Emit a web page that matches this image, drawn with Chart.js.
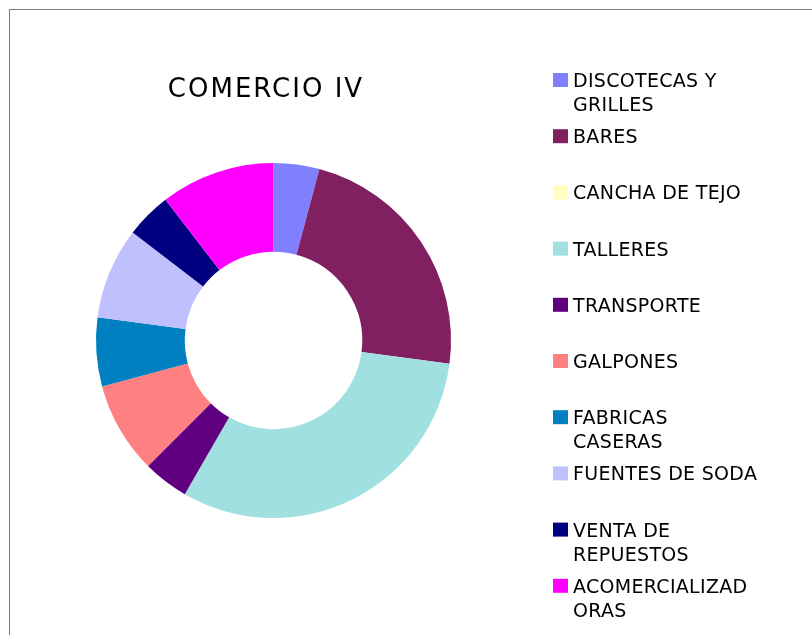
<!DOCTYPE html>
<html>
<head>
<meta charset="utf-8">
<script src="https://cdn.jsdelivr.net/npm/chart.js@4"></script>
<style>
  html, body { margin: 0; padding: 0; background: #fff; overflow: hidden; }
  #frame { position: absolute; left: 9px; top: 9px; width: 900px; height: 700px; border: 1px solid #7a7a7a; }
  #wrap { position: absolute; left: 0; top: 0; width: 812px; height: 635px; }
</style>
</head>
<body>
<div id="frame"></div>
<div id="wrap"><canvas id="chart" width="812" height="635"></canvas></div>
<script>
const chartTitle = "COMERCIO IV";
const categories = [
    ["DISCOTECAS Y", "GRILLES"],
    "BARES",
    "CANCHA DE TEJO",
    "TALLERES",
    "TRANSPORTE",
    "GALPONES",
    ["FABRICAS", "CASERAS"],
    "FUENTES DE SODA",
    ["VENTA DE", "REPUESTOS"],
    ["ACOMERCIALIZAD", "ORAS"]
];
const counts = [2, 11, 0, 15, 2, 4, 3, 4, 2, 5];
const colors = ["#8080ff", "#802060", "#ffffc0", "#a0e0e0", "#600080",
                "#ff8080", "#0080c0", "#c0c0ff", "#000080", "#ff00ff"];

const FONT = '"DejaVu Sans", "Liberation Sans", sans-serif';

// title + legend drawn by hand so they sit where the original has them
const sideLegend = {
    id: "sideLegend",
    afterDraw(chart) {
        const ctx = chart.ctx;
        ctx.save();
        ctx.fillStyle = "#000";
        ctx.textAlign = "center";
        ctx.textBaseline = "alphabetic";
        ctx.font = "26px " + FONT;
        ctx.letterSpacing = "2px";
        ctx.fillText(chartTitle, 266, 97);

        ctx.textAlign = "left";
        ctx.font = "19px " + FONT;
        ctx.letterSpacing = "0.3px";
        const labels = chart.data.labels;
        labels.forEach((lab, i) => {
            const top = 73 + i * 56.2;
            ctx.fillStyle = chart.data.datasets[0].backgroundColor[i];
            ctx.fillRect(553, top, 15, 14);
            ctx.fillStyle = "#000";
            const lines = Array.isArray(lab) ? lab : [lab];
            lines.forEach((t, j) => ctx.fillText(t, 573, top + 14 + j * 24));
        });
        ctx.restore();
    }
};

new Chart(document.getElementById("chart"), {
    type: "doughnut",
    data: {
        labels: categories,
        datasets: [{
            data: counts,
            backgroundColor: colors,
            borderWidth: 0
        }]
    },
    options: {
        responsive: false,
        animation: false,
        cutout: "50%",
        layout: { padding: { left: 96, right: 361, top: 163, bottom: 117 } },
        plugins: {
            legend: { display: false },
            title: { display: false },
            tooltip: { enabled: false }
        }
    },
    plugins: [sideLegend]
});
</script>
</body>
</html>
